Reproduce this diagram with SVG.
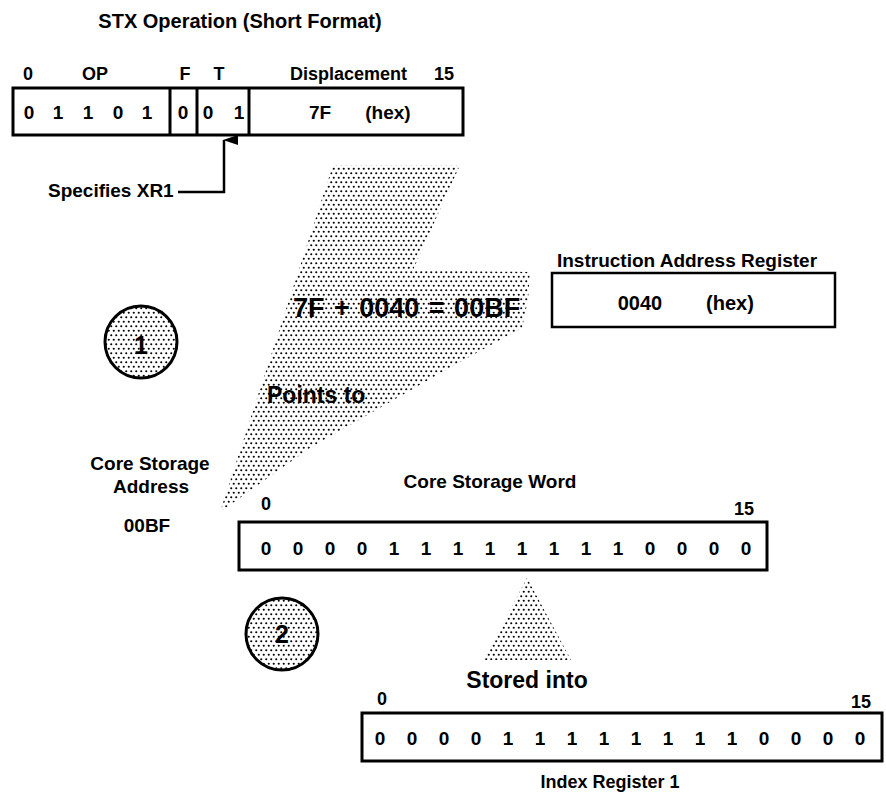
<svg xmlns="http://www.w3.org/2000/svg" width="886" height="797" viewBox="0 0 886 797">
<defs>
<pattern id="dots" width="5" height="9" patternUnits="userSpaceOnUse">
<circle cx="1.25" cy="2.25" r="1.05" fill="#000"/>
<circle cx="3.75" cy="6.75" r="1.05" fill="#000"/>
</pattern>
<marker id="ah" markerWidth="12" markerHeight="16" refX="6" refY="1" orient="auto-start-reverse" markerUnits="userSpaceOnUse" viewBox="0 0 12 16">
<polygon points="6,0 11,15 1,15" fill="#000"/>
</marker>
</defs>
<style>
text{font-family:"Liberation Sans",Arial,sans-serif;font-weight:bold;fill:#000}
.m{text-anchor:middle}
.f18{font-size:18px}
.f19{font-size:19px}
.f20{font-size:20px}
.f23{font-size:23px}
.box{fill:#fff;stroke:#000;stroke-width:3}
.div{stroke:#000;stroke-width:3}
.stip{fill:url(#dots)}
.circ{fill:url(#dots);stroke:#000;stroke-width:3}
.conn{fill:none;stroke:#000;stroke-width:2.5}
</style>
<rect width="886" height="797" fill="#fff"/>

<g id="title">
<text class="f20 m" x="240" y="28">STX Operation (Short Format)</text>
</g>

<g id="instruction-word">
<text class="f18 m" x="28" y="80">0</text>
<text class="f18 m" x="95" y="80">OP</text>
<text class="f18 m" x="185" y="80">F</text>
<text class="f18 m" x="219" y="80">T</text>
<text class="f18" x="290" y="80">Displacement</text>
<text class="f18 m" x="444" y="80">15</text>
<rect class="box" x="13" y="88" width="450" height="47"/>
<line class="div" x1="170" y1="88" x2="170" y2="135"/>
<line class="div" x1="197" y1="88" x2="197" y2="135"/>
<line class="div" x1="249" y1="88" x2="249" y2="135"/>
<g class="f19 m">
<text x="29" y="119">0</text>
<text x="58" y="119">1</text>
<text x="88" y="119">1</text>
<text x="118" y="119">0</text>
<text x="147" y="119">1</text>
<text x="183" y="119">0</text>
<text x="208" y="119">0</text>
<text x="239" y="119">1</text>
<text x="320" y="119">7F</text>
<text x="388" y="119">(hex)</text>
</g>
</g>

<g id="specifies-xr1">
<text class="f19" x="48" y="197">Specifies XR1</text>
</g>

<g id="address-calc">
<polygon class="stip" points="333,165 460,165 413,270 530,272 528,300 522,328 460,362 397,398 310,448 220,512"/>
<text x="293" y="317" style="font-size:27px;word-spacing:2px">7F + 0040 = 00BF</text>
<text class="f23" x="267" y="403">Points to</text>
</g>

<g id="iar">
<text class="f19 m" x="687" y="267">Instruction Address Register</text>
<rect class="box" x="552" y="273" width="283" height="54" style="stroke-width:2.5"/>
<text class="f20 m" x="640" y="310">0040</text>
<text class="f20 m" x="730" y="310">(hex)</text>
</g>

<g id="step1">
<circle class="circ" cx="141" cy="342" r="36"/>
<text class="m" x="141" y="354" style="font-size:25px">1</text>
</g>

<g id="core-address">
<text class="f19 m" x="150" y="470">Core Storage</text>
<text class="f19 m" x="151" y="493">Address</text>
<text class="f19 m" x="147" y="532">00BF</text>
</g>

<g id="core-word">
<text class="f19 m" x="490" y="488">Core Storage Word</text>
<text class="f18 m" x="266" y="510">0</text>
<text class="f18 m" x="744" y="515">15</text>
<rect class="box" x="239" y="522" width="528" height="48"/>
<g class="f19 m">
<text x="266" y="555">0</text><text x="298" y="555">0</text><text x="330" y="555">0</text><text x="362" y="555">0</text>
<text x="394" y="555">1</text><text x="426" y="555">1</text><text x="458" y="555">1</text><text x="490" y="555">1</text>
<text x="522" y="555">1</text><text x="554" y="555">1</text><text x="586" y="555">1</text><text x="618" y="555">1</text>
<text x="650" y="555">0</text><text x="682" y="555">0</text><text x="714" y="555">0</text><text x="746" y="555">0</text>
</g>
</g>

<g id="step2">
<circle class="circ" cx="282" cy="634" r="36"/>
<text class="m" x="282" y="643" style="font-size:25px">2</text>
</g>

<g id="store">
<polygon class="stip" points="527,578 483,660 571,660"/>
<text class="f23 m" x="527" y="688">Stored into</text>
</g>

<g id="index-register">
<text class="f18 m" x="382" y="705">0</text>
<text class="f18 m" x="861" y="708">15</text>
<rect class="box" x="362" y="713" width="520" height="48"/>
<g class="f19 m">
<text x="380" y="745">0</text><text x="412" y="745">0</text><text x="444" y="745">0</text><text x="476" y="745">0</text>
<text x="508" y="745">1</text><text x="540" y="745">1</text><text x="572" y="745">1</text><text x="604" y="745">1</text>
<text x="636" y="745">1</text><text x="668" y="745">1</text><text x="700" y="745">1</text><text x="732" y="745">1</text>
<text x="764" y="745">0</text><text x="796" y="745">0</text><text x="828" y="745">0</text><text x="860" y="745">0</text>
</g>
<text class="f18 m" x="610" y="788">Index Register 1</text>
</g>

<g id="connectors">
<polyline class="conn" points="178,192 224,192 224,140" marker-end="url(#ah)"/>
</g>
</svg>
